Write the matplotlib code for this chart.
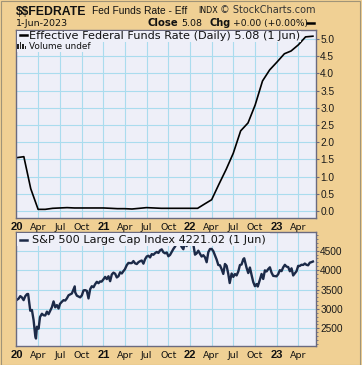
import matplotlib
matplotlib.use("Agg")
import matplotlib.pyplot as plt
import matplotlib.dates as mdates
from matplotlib.patches import Rectangle
import numpy as np
import pandas as pd

plt.rcParams["text.parse_math"] = False

# ---------------- data ----------------
fed_dates = ["2020-01-01","2020-02-01","2020-03-01","2020-04-01","2020-05-01","2020-06-01",
             "2020-07-01","2020-08-01","2020-09-01","2020-10-01","2020-11-01","2020-12-01",
             "2021-01-01","2021-02-01","2021-03-01","2021-04-01","2021-05-01","2021-06-01",
             "2021-07-01","2021-08-01","2021-09-01","2021-10-01","2021-11-01","2021-12-01",
             "2022-01-01","2022-02-01","2022-03-01","2022-04-01","2022-05-01","2022-06-01",
             "2022-07-01","2022-08-01","2022-09-01","2022-10-01","2022-11-01","2022-12-01",
             "2023-01-01","2023-02-01","2023-03-01","2023-04-01","2023-05-01","2023-06-01"]
fed_values = [1.55, 1.58, 0.65, 0.05, 0.05, 0.08,
              0.09, 0.10, 0.09, 0.09, 0.09, 0.09,
              0.09, 0.08, 0.07, 0.07, 0.06, 0.08,
              0.10, 0.09, 0.08, 0.08, 0.08, 0.08,
              0.08, 0.08, 0.20, 0.33, 0.77, 1.21,
              1.68, 2.33, 2.56, 3.08, 3.78, 4.10,
              4.33, 4.57, 4.65, 4.83, 5.06, 5.08]

spx_dates = ["2020-01-03","2020-01-10","2020-01-17","2020-01-24","2020-01-31","2020-02-07","2020-02-14",
             "2020-02-19","2020-02-28","2020-03-06","2020-03-13","2020-03-20","2020-03-23","2020-03-27",
             "2020-04-03","2020-04-09","2020-04-17","2020-04-24","2020-05-01","2020-05-08","2020-05-15",
             "2020-05-22","2020-05-29","2020-06-05","2020-06-12","2020-06-19","2020-06-26","2020-07-02",
             "2020-07-10","2020-07-17","2020-07-24","2020-07-31","2020-08-07","2020-08-14","2020-08-21",
             "2020-09-02","2020-09-04","2020-09-11","2020-09-18","2020-09-25","2020-10-02","2020-10-09",
             "2020-10-16","2020-10-23","2020-10-30","2020-11-06","2020-11-13","2020-11-20","2020-11-27",
             "2020-12-04","2020-12-11","2020-12-18","2020-12-24","2020-12-31",
             "2021-01-08","2021-01-15","2021-01-22","2021-01-29","2021-02-05","2021-02-12","2021-02-19",
             "2021-02-26","2021-03-05","2021-03-12","2021-03-19","2021-03-26","2021-04-01","2021-04-09",
             "2021-04-16","2021-04-23","2021-04-30","2021-05-07","2021-05-14","2021-05-21","2021-05-28",
             "2021-06-04","2021-06-11","2021-06-18","2021-06-25","2021-07-02","2021-07-09","2021-07-16",
             "2021-07-23","2021-07-30","2021-08-06","2021-08-13","2021-08-20","2021-08-27","2021-09-03",
             "2021-09-10","2021-09-17","2021-09-24","2021-10-01","2021-10-08","2021-10-15","2021-10-22",
             "2021-10-29","2021-11-05","2021-11-12","2021-11-19","2021-11-26","2021-12-03","2021-12-10",
             "2021-12-17","2021-12-23","2021-12-31",
             "2022-01-03","2022-01-07","2022-01-14","2022-01-21","2022-01-28","2022-02-04","2022-02-11",
             "2022-02-18","2022-02-25","2022-03-04","2022-03-11","2022-03-18","2022-03-25","2022-04-01",
             "2022-04-08","2022-04-14","2022-04-22","2022-04-29","2022-05-06","2022-05-13","2022-05-20",
             "2022-05-27","2022-06-03","2022-06-10","2022-06-16","2022-06-24","2022-07-01","2022-07-08",
             "2022-07-15","2022-07-22","2022-07-29","2022-08-05","2022-08-12","2022-08-16","2022-08-26",
             "2022-09-02","2022-09-09","2022-09-16","2022-09-23","2022-09-30","2022-10-07","2022-10-12",
             "2022-10-21","2022-10-28","2022-11-04","2022-11-11","2022-11-18","2022-11-25","2022-12-02",
             "2022-12-09","2022-12-16","2022-12-23","2022-12-30",
             "2023-01-06","2023-01-13","2023-01-20","2023-01-27","2023-02-03","2023-02-10","2023-02-17",
             "2023-02-24","2023-03-03","2023-03-10","2023-03-17","2023-03-24","2023-03-31","2023-04-06",
             "2023-04-14","2023-04-21","2023-04-28","2023-05-05","2023-05-12","2023-05-19","2023-05-26",
             "2023-06-01"]
spx_values = [3235, 3265, 3330, 3295, 3226, 3328, 3380,
              3386, 2954, 2972, 2711, 2305, 2237, 2541,
              2489, 2790, 2875, 2837, 2831, 2930, 2864,
              2955, 3044, 3194, 3041, 3098, 3009, 3130,
              3185, 3225, 3216, 3271, 3351, 3373, 3397,
              3580, 3427, 3341, 3319, 3298, 3348, 3477,
              3484, 3465, 3270, 3509, 3585, 3558, 3638,
              3699, 3663, 3709, 3703, 3756,
              3825, 3768, 3841, 3714, 3887, 3934, 3907,
              3811, 3842, 3943, 3913, 3975, 4020, 4129,
              4185, 4180, 4181, 4233, 4174, 4156, 4204,
              4230, 4247, 4166, 4281, 4352, 4370, 4327,
              4412, 4395, 4437, 4468, 4442, 4509, 4535,
              4459, 4433, 4455, 4357, 4391, 4471, 4545,
              4605, 4697, 4683, 4698, 4595, 4538, 4712,
              4620, 4726, 4766,
              4797, 4677, 4663, 4398, 4432, 4501, 4419,
              4349, 4385, 4329, 4204, 4463, 4543, 4546,
              4488, 4393, 4272, 4132, 4123, 4024, 3901,
              4158, 4109, 3901, 3667, 3912, 3825, 3899,
              3863, 3962, 4130, 4145, 4280, 4305, 4058,
              3924, 4067, 3873, 3693, 3586, 3640, 3577,
              3753, 3901, 3771, 3993, 3965, 4026, 4072,
              3934, 3852, 3845, 3840,
              3895, 3999, 3973, 4071, 4136, 4090, 4079,
              3970, 4046, 3862, 3917, 3971, 4109, 4105,
              4138, 4133, 4169, 4136, 4124, 4192, 4205,
              4221]

top_ticks = [0.0, 0.5, 1.0, 1.5, 2.0, 2.5, 3.0, 3.5, 4.0, 4.5, 5.0]
bot_ticks = [2500, 3000, 3500, 4000, 4500]
month_ticks = ["2020-01-01","2020-04-01","2020-07-01","2020-10-01",
               "2021-01-01","2021-04-01","2021-07-01","2021-10-01",
               "2022-01-01","2022-04-01","2022-07-01","2022-10-01",
               "2023-01-01","2023-04-01"]
month_labels = ["20","Apr","Jul","Oct","21","Apr","Jul","Oct","22","Apr","Jul","Oct","23","Apr"]

# ---------------- style ----------------
BG = "#f0d094"
PANEL = "#eeeff8"
GRID = "#aadcee"
EDGE = "#6a6a80"
TXT = "#111111"
SANS = ["Liberation Sans", "DejaVu Sans"]
VERD = ["DejaVu Sans"]

FW, FH = 362, 365
def px(x, y):
    return x / FW, 1 - y / FH

fd = pd.to_datetime(fed_dates)
sd = pd.to_datetime(spx_dates)
mt = pd.to_datetime(month_ticks)
x0 = mdates.date2num(pd.Timestamp("2019-12-30"))
x1 = mdates.date2num(pd.Timestamp("2023-06-14"))

L, W = 16 / FW, 300 / FW
fig = plt.figure(figsize=(3.62, 3.65), dpi=100, facecolor=BG)
ax1 = fig.add_axes([L, 1 - 218.3 / FH, W, 188.3 / FH])
ax2 = fig.add_axes([L, 1 - 345.7 / FH, W, 113.7 / FH])

for ax, ticks in ((ax1, top_ticks), (ax2, bot_ticks)):
    ax.set_facecolor(PANEL)
    for s in ax.spines.values():
        s.set_color(EDGE)
        s.set_linewidth(1.0)
    ax.set_xlim(x0, x1)
    ax.set_xticks(mdates.date2num(mt))
    ax.set_xticklabels([])
    ax.tick_params(axis="x", length=0)
    ax.yaxis.tick_right()
    ax.set_yticks(ticks)
    ax.tick_params(axis="y", direction="out", length=2.5, width=0.8, color=EDGE,
                   labelsize=7.3, pad=0.6, labelcolor="#1a1a1a")
    ax.grid(True, color=GRID, linewidth=0.8)
    ax.set_axisbelow(True)

ax1.set_ylim(-0.21, 5.26)
ax1.set_yticklabels([f"{t:.1f}" for t in top_ticks], family=SANS)
ax1.plot(fd, fed_values, color="black", linewidth=1.2, solid_joinstyle="round")

ax2.set_ylim(2052, 4982)
ax2.set_yticklabels([str(t) for t in bot_ticks], family=SANS)
ax2.set_yticks(np.arange(2100, 4950, 100), minor=True)
ax2.tick_params(axis="y", which="minor", direction="out", length=1.5, width=0.6, color=EDGE)
ax2.plot(sd, spx_values, color="#1c2a48", linewidth=1.7, solid_joinstyle="round")

# x tick labels (between panels and below)
for ylab in (229.5, 357.5):
    for d, lab in zip(mt, month_labels):
        bold = lab.isdigit()
        xf = mdates.date2num(d)
        xfig = L + (xf - x0) / (x1 - x0) * W
        fig.text(xfig, 1 - ylab / FH, lab, ha="center", va="baseline",
                 fontsize=8 if bold else 6.8, fontweight="bold" if bold else "normal",
                 family=SANS if bold else VERD, color=TXT)

# header texts
fig.text(*px(16, 15), "$$FEDRATE", fontsize=8.8, fontweight="bold", va="baseline", ha="left",
         color=TXT, family=SANS)
fig.text(*px(92, 13.6), "Fed Funds Rate - Eff", fontsize=7.4, va="baseline", ha="left",
         color=TXT, family=SANS)
fig.text(*px(198.3, 13.2), "INDX", fontsize=5.8, va="baseline", ha="left", color=TXT, family=VERD)
fig.text(*px(316, 13.4), "\u00a9 StockCharts.com", fontsize=7.0, va="baseline", ha="right",
         color="#333333", family=VERD)
fig.text(*px(16, 26), "1-Jun-2023", fontsize=6.8, va="baseline", ha="left", color=TXT, family=VERD)
fig.text(*px(147, 26.5), "Close", fontsize=7.3, fontweight="bold", va="baseline", ha="left",
         color=TXT, family=VERD)
fig.text(*px(181.5, 26.2), "5.08", fontsize=6.8, va="baseline", ha="left", color=TXT, family=VERD)
fig.text(*px(209.3, 26.5), "Chg", fontsize=7.0, fontweight="bold", va="baseline", ha="left",
         color=TXT, family=VERD)
fig.text(*px(232.7, 26.2), "+0.00 (+0.00%)", fontsize=6.6, va="baseline", ha="left",
         color=TXT, family=VERD)
fig.add_artist(plt.Line2D([307 / FW, 313.5 / FW], [1 - 23.3 / FH] * 2, color="black", linewidth=1.8))

# legends inside panels
ax1.add_patch(Rectangle(px(16.5, 41.5), 284 / FW, 11 / FH, transform=fig.transFigure,
                        facecolor=PANEL, edgecolor="none", zorder=3))
fig.add_artist(plt.Line2D([20 / FW, 26.7 / FW], [1 - 35 / FH] * 2, color="black", linewidth=1.8, zorder=4))
fig.text(*px(29.3, 38.6), "Effective Federal Funds Rate (Daily) 5.08 (1 Jun)", fontsize=8.1,
         va="baseline", ha="left", color=TXT, family=VERD, zorder=4)

ax1.add_patch(Rectangle(px(16.5, 51.5), 76 / FW, 10 / FH, transform=fig.transFigure,
                        facecolor=PANEL, edgecolor="none", zorder=3))
for bx, bh in ((17.2, 5.0), (19.7, 7.0), (22.2, 5.5), (24.6, 3.5)):
    fig.add_artist(Rectangle(px(bx, 49.3), 1.6 / FW, bh / FH, transform=fig.transFigure,
                             facecolor="#222222", edgecolor="none", zorder=4))
fig.text(*px(29.3, 49.3), "Volume undef", fontsize=6.4, va="baseline", ha="left", color=TXT,
         family=VERD, zorder=4)

ax2.add_patch(Rectangle(px(16.5, 246), 253 / FW, 13.5 / FH, transform=fig.transFigure,
                        facecolor=PANEL, edgecolor="none", zorder=3))
fig.add_artist(plt.Line2D([20 / FW, 26.7 / FW], [1 - 240 / FH] * 2, color="#1c2a48", linewidth=1.8, zorder=4))
fig.text(*px(31.5, 243.2), "S&P 500 Large Cap Index 4221.02 (1 Jun)", fontsize=8.1,
         va="baseline", ha="left", color=TXT, family=VERD, zorder=4)

# outer frame
fig.add_artist(Rectangle(px(0.5, 364.5), 359 / FW, 364 / FH, transform=fig.transFigure,
                         facecolor="none", edgecolor="#a09478", linewidth=0.8))

fig.savefig("out.png", dpi=100, facecolor=BG)
